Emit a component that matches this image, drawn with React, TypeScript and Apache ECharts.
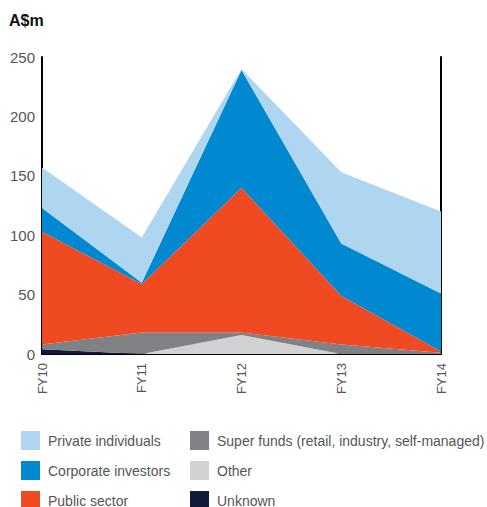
import React, { useEffect, useRef } from "react";
import * as echarts from "echarts";

const years = ["FY10", "FY11", "FY12", "FY13", "FY14"];
const yTicks = [0, 50, 100, 150, 200, 250];

const unknown = [4, 0, 0, 0, 0];
const other = [0, 0, 16, 0, 0];
const superFunds = [4, 18, 2, 8, 1];
const publicSector = [95, 41, 122, 41, 1];
const corporate = [20, 1, 99, 44, 49];
const privateInd = [34, 38, 1, 60, 69];

const NAMES = {
  priv: "Private individuals",
  corp: "Corporate investors",
  pub: "Public sector",
  sup: "Super funds (retail, industry, self-managed)",
  oth: "Other",
  unk: "Unknown",
};

const COLORS: Record<string, string> = {
  [NAMES.priv]: "#afd6f1",
  [NAMES.corp]: "#0089d0",
  [NAMES.pub]: "#f04a23",
  [NAMES.sup]: "#808184",
  [NAMES.oth]: "#d1d2d4",
  [NAMES.unk]: "#0d1a3a",
};

const FONT = "'Liberation Sans', Arial, sans-serif";

export default function App() {
  const ref = useRef<HTMLDivElement>(null);

  useEffect(() => {
    document.body.style.margin = "0";
    const chart = echarts.init(ref.current!, null, { renderer: "svg" });

    const area = (name: string, data: number[]) => ({
      name,
      type: "line",
      stack: "total",
      data,
      symbol: "none",
      lineStyle: { width: 0 },
      areaStyle: { color: COLORS[name], opacity: 1 },
      itemStyle: { color: COLORS[name] },
    });

    const legendBase = {
      orient: "vertical",
      icon: "rect",
      itemWidth: 19,
      itemHeight: 19,
      itemGap: 11,
      padding: 0,
      height: 100,
      selectedMode: false,
      textStyle: { fontFamily: FONT, fontSize: 14, color: "#555", padding: [0, 0, 0, 3] },
    };

    chart.setOption({
      animation: false,
      textStyle: { fontFamily: FONT },
      title: {
        text: "A$m",
        left: 4,
        top: 7,
        textStyle: { fontFamily: FONT, fontSize: 16, fontWeight: "bold", color: "#111" },
      },
      grid: { left: 42, right: 46, top: 57, bottom: 153 },
      xAxis: {
        type: "category",
        data: years,
        boundaryGap: false,
        axisLine: { lineStyle: { color: "#000", width: 2 } },
        axisTick: { show: false },
        axisLabel: { rotate: 90, color: "#555", fontSize: 13, margin: 9 },
      },
      yAxis: [
        {
          type: "value",
          min: yTicks[0],
          max: yTicks[yTicks.length - 1],
          interval: 50,
          axisLine: { show: true, lineStyle: { color: "#000", width: 2 } },
          axisTick: { show: false },
          splitLine: { show: false },
          axisLabel: { color: "#555", fontSize: 15, margin: 7 },
        },
        {
          type: "value",
          position: "right",
          min: yTicks[0],
          max: yTicks[yTicks.length - 1],
          interval: 50,
          axisLine: { show: true, lineStyle: { color: "#000", width: 2 } },
          axisTick: { show: false },
          splitLine: { show: false },
          axisLabel: { show: false },
        },
      ],
      legend: [
        { ...legendBase, left: 21, top: 431, data: [NAMES.priv, NAMES.corp, NAMES.pub] },
        { ...legendBase, left: 190, top: 431, data: [NAMES.sup, NAMES.oth, NAMES.unk] },
      ],
      series: [
        area(NAMES.unk, unknown),
        area(NAMES.oth, other),
        area(NAMES.sup, superFunds),
        area(NAMES.pub, publicSector),
        area(NAMES.corp, corporate),
        area(NAMES.priv, privateInd),
      ],
    });

    return () => chart.dispose();
  }, []);

  return <div ref={ref} style={{ width: 487, height: 507 }} />;
}
